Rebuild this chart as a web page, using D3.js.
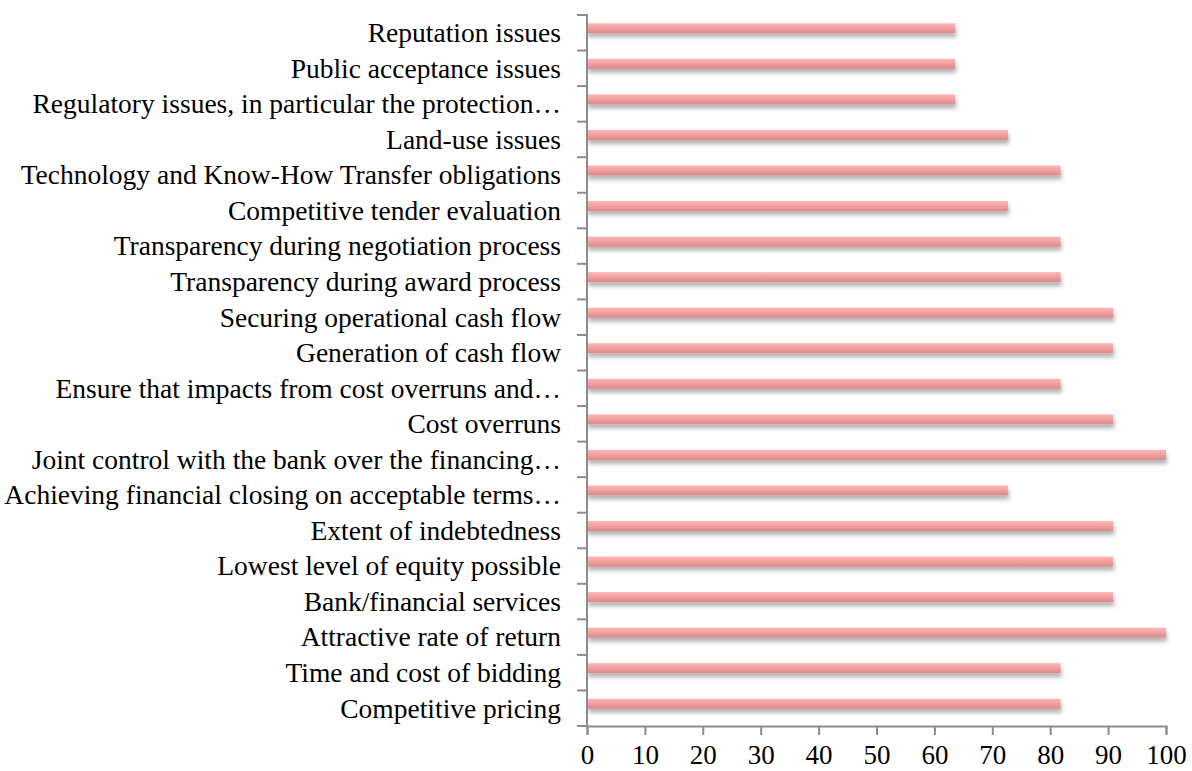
<!DOCTYPE html>
<html>
<head>
<meta charset="utf-8">
<script src="https://cdn.jsdelivr.net/npm/d3@7"></script>
<style>
  html, body { margin: 0; padding: 0; background: #fff; }
  svg { display: block; }
  text { font-family: "Liberation Serif", "Times New Roman", serif; fill: #000; }
</style>
</head>
<body>
<svg id="chart" width="1192" height="771"></svg>
<script>
// Categories listed bottom to top, as they appear on the axis
const categories = [
  "Competitive pricing",
  "Time and cost of bidding",
  "Attractive rate of return",
  "Bank/financial services",
  "Lowest level of equity possible",
  "Extent of indebtedness",
  "Achieving financial closing on acceptable terms…",
  "Joint control with the bank over the financing…",
  "Cost overruns",
  "Ensure that impacts from cost overruns and…",
  "Generation of cash flow",
  "Securing operational cash flow",
  "Transparency during award process",
  "Transparency during negotiation process",
  "Competitive tender evaluation",
  "Technology and Know-How Transfer obligations",
  "Land-use issues",
  "Regulatory issues, in particular the protection…",
  "Public acceptance issues",
  "Reputation issues"
];

// Share of respondents (%)
const values = [
  81.8, 81.8, 100, 90.9, 90.9, 90.9, 72.7, 100, 90.9, 81.8,
  90.9, 90.9, 81.8, 81.8, 72.7, 81.8, 72.7, 63.6, 63.6, 63.6
];

const xTicks = [0, 10, 20, 30, 40, 50, 60, 70, 80, 90, 100];

const svg = d3.select("#chart");
const plotLeft = 587, plotRight = 1166, plotTop = 15, plotBottom = 726;

const x = d3.scaleLinear().domain([0, 100]).range([plotLeft, plotRight]);
const y = d3.scaleBand().domain(categories.slice().reverse()).range([plotTop, plotBottom]);

// Bar fill and soft shadow
const defs = svg.append("defs");
const grad = defs.append("linearGradient")
  .attr("id", "barFill").attr("x1", 0).attr("y1", 0).attr("x2", 0).attr("y2", 1);
grad.append("stop").attr("offset", "0%").attr("stop-color", "#fcb6b6");
grad.append("stop").attr("offset", "45%").attr("stop-color", "#f2a2a2");
grad.append("stop").attr("offset", "100%").attr("stop-color", "#db8888");

const shadow = defs.append("filter").attr("id", "barShadow")
  .attr("x", "-5%").attr("y", "-50%").attr("width", "110%").attr("height", "250%");
shadow.append("feDropShadow")
  .attr("dx", 1).attr("dy", 4).attr("stdDeviation", 2)
  .attr("flood-color", "#000").attr("flood-opacity", 0.3);

const barH = 10;
svg.append("g").selectAll("rect")
  .data(categories)
  .join("rect")
  .attr("x", x(0))
  .attr("y", (d) => y(d) + y.bandwidth() / 2 - barH / 2 - 4.5)
  .attr("width", (d, i) => x(values[i]) - x(0))
  .attr("height", barH)
  .attr("fill", "url(#barFill)")
  .attr("filter", "url(#barShadow)");

// Category axis
const yAxis = d3.axisLeft(y).tickSize(0).tickPadding(26);
const gy = svg.append("g").attr("transform", `translate(${plotLeft},0)`).call(yAxis);
gy.select(".domain").remove();
gy.selectAll("text").style("font-size", "27.5px").attr("dy", "0.34em");

// Boundary ticks between categories
const bounds = d3.range(categories.length + 1).map((i) => plotTop + i * y.step());
svg.append("g").selectAll("line")
  .data(bounds)
  .join("line")
  .attr("x1", plotLeft - 10).attr("x2", plotLeft)
  .attr("y1", (d) => d).attr("y2", (d) => d)
  .attr("stroke", "#8c8c8c").attr("stroke-width", 2);
svg.append("line")
  .attr("x1", plotLeft).attr("x2", plotLeft).attr("y1", plotTop - 1).attr("y2", plotBottom + 1)
  .attr("stroke", "#8c8c8c").attr("stroke-width", 2);

// Value axis
const xAxis = d3.axisBottom(x).tickValues(xTicks).tickSize(9).tickSizeOuter(9).tickPadding(10);
const gx = svg.append("g").attr("transform", `translate(0,${plotBottom})`).call(xAxis);
gx.select(".domain").attr("stroke", "#8c8c8c").attr("stroke-width", 2);
gx.selectAll(".tick line").attr("stroke", "#8c8c8c").attr("stroke-width", 2);
gx.selectAll("text").style("font-size", "27px");
</script>
</body>
</html>
